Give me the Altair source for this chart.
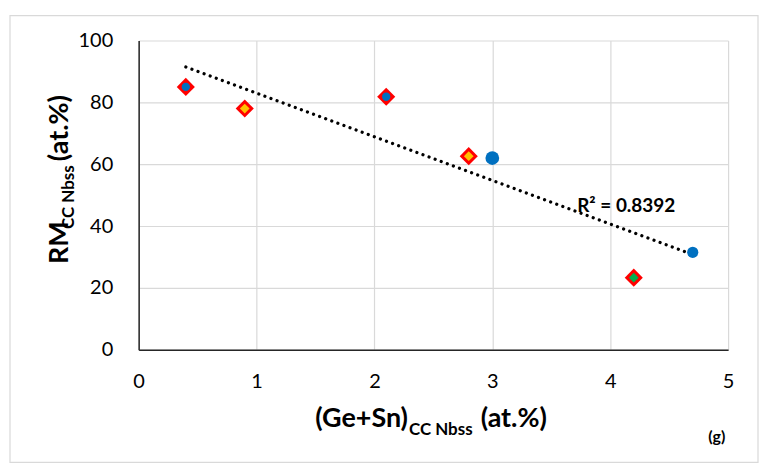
import altair as alt
import pandas as pd

# ---- data ----
x_vals = [0.4, 0.9, 2.1, 2.8, 3.0, 4.2, 4.7]
y_vals = [85.0, 78.0, 81.8, 62.6, 62.0, 23.3, 31.5]
kinds = ["blue_in_red", "yellow_in_red", "blue_in_red", "yellow_in_red",
         "blue_large", "green_in_red", "blue_small"]

x_ticks = [0, 1, 2, 3, 4, 5]
y_ticks = [0, 20, 40, 60, 80, 100]

r2_label = ["R² = 0.8392"]
r2_pos_x = [3.72]
r2_pos_y = [46.5]

x_title_parts = ["(Ge+Sn)", "CC Nbss", "(at.%)"]
y_title_parts = ["RM", "CC Nbss", "(at.%)"]
panel_label = "(g)"

df = pd.DataFrame({"x": x_vals, "y": y_vals, "kind": kinds})
df_r2 = pd.DataFrame({"x": r2_pos_x, "y": r2_pos_y, "t": r2_label})
one = pd.DataFrame({"a": [0]})

W, H = 591, 310
FONT = "Lato"

xs = alt.Scale(domain=[0, 5], nice=False)
ys = alt.Scale(domain=[0, 100], nice=False)

base = alt.Chart(df)

border = alt.Chart(one).mark_rect(fillOpacity=0, stroke="#D9D9D9", strokeWidth=1.2).encode(
    x=alt.value(-129), x2=alt.value(621), y=alt.value(-25), y2=alt.value(423)
)

axes_layer = base.mark_point(opacity=0).encode(
    x=alt.X("x:Q", scale=xs, axis=alt.Axis(
        values=x_ticks, format="d", title=None, grid=True, gridColor="#D9D9D9", gridWidth=1.2,
        domainColor="#262626", domainWidth=1.5, ticks=False,
        labelFontSize=20, labelFont=FONT, labelColor="#000000", labelPadding=22,
        labelFlush=False)),
    y=alt.Y("y:Q", scale=ys, axis=alt.Axis(
        values=y_ticks, format="d", title=None, grid=True, gridColor="#D9D9D9", gridWidth=1.2,
        domainColor="#262626", domainWidth=1.5, ticks=False,
        labelFontSize=20, labelFont=FONT, labelColor="#000000", labelPadding=26,
        labelFlush=False)),
)


def markers(kind_list, shape, color, size):
    return base.transform_filter(
        alt.FieldOneOfPredicate(field="kind", oneOf=kind_list)
    ).mark_point(shape=shape, filled=True, color=color, size=size, opacity=1).encode(
        x=alt.X("x:Q", scale=xs), y=alt.Y("y:Q", scale=ys)
    )


outer = markers(["blue_in_red", "yellow_in_red", "green_in_red"], "diamond", "#FF0000", 330)
inner_blue = markers(["blue_in_red"], "circle", "#0070C0", 70)
inner_yellow = markers(["yellow_in_red"], "diamond", "#FFC000", 95)
inner_green = markers(["green_in_red"], "diamond", "#00B050", 95)
blue_large = markers(["blue_large"], "circle", "#0070C0", 190)
blue_small = markers(["blue_small"], "circle", "#0070C0", 125)

trend = base.transform_regression("x", "y", extent=[0.4, 4.7]).mark_line(
    color="#000000", strokeWidth=3.2, strokeDash=[0.1, 6.4], strokeCap="round"
).encode(x=alt.X("x:Q", scale=xs), y=alt.Y("y:Q", scale=ys))

r2 = alt.Chart(df_r2).mark_text(
    align="left", baseline="middle", fontSize=19, fontWeight="bold", font=FONT, color="#000000"
).encode(x=alt.X("x:Q", scale=xs), y=alt.Y("y:Q", scale=ys), text="t:N")


def txt(s, x, y, size, angle=0):
    kw = dict(align="left", baseline="alphabetic", fontSize=size, fontWeight="bold",
              font=FONT, color="#000000")
    if angle:
        kw["angle"] = angle
    return alt.Chart(one).mark_text(**kw).encode(
        x=alt.value(x), y=alt.value(y), text=alt.value(s))


x_title = (txt(x_title_parts[0], 177, 388, 27)
           + txt(x_title_parts[1], 271, 396, 17)
           + txt(x_title_parts[2], 343, 388, 27))
y_title = (txt(y_title_parts[0], -71, 224, 27, 270)
           + txt(y_title_parts[1], -65, 189, 17, 270)
           + txt(y_title_parts[2], -71, 121, 27, 270))
g_label = txt(panel_label, 571, 403, 16)

chart = alt.layer(
    border, axes_layer, trend, outer, inner_blue, inner_yellow, inner_green,
    blue_large, blue_small, r2, x_title, y_title, g_label
).properties(
    width=W, height=H,
    autosize=alt.AutoSizeParams(type="none"),
    padding={"left": 131, "top": 32, "right": 32, "bottom": 115},
).configure_view(strokeWidth=0)

chart.save("out.html", embed_options={"renderer": "svg", "actions": False})
